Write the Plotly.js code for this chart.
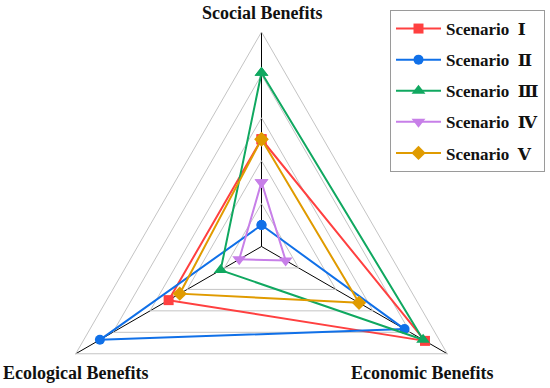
<!DOCTYPE html>
<html>
<head>
<meta charset="utf-8">
<script src="https://cdn.plot.ly/plotly-3.0.1.min.js"></script>
<style>
html,body{margin:0;padding:0;overflow:hidden;background:#fff;width:550px;height:388px;}
#chart{width:550px;height:470px;}
</style>
</head>
<body>
<div id="chart"></div>
<script>
// Categories (clockwise from top)
const categories = ['Scocial Benefits', 'Economic Benefits', 'Ecological Benefits'];
const scenarioNames = ['Scenario\u2002\u2160', 'Scenario\u2002\u2161', 'Scenario\u2002\u2162', 'Scenario\u2002\u2163', 'Scenario\u2002\u2164'];
// values: [Social, Economic, Ecological]
const scenario1 = [0.50, 0.88, 0.50];
const scenario2 = [0.10, 0.77, 0.87];
const scenario3 = [0.81, 0.87, 0.22];
const scenario4 = [0.30, 0.13, 0.12];
const scenario5 = [0.50, 0.525, 0.44];
const gridTicks = [0.2, 0.4, 0.6, 0.8];

const seriesValues = [scenario1, scenario2, scenario3, scenario4, scenario5];
const colors = ['#FF4040', '#1070E8', '#10A860', '#C77FE8', '#E09B00'];
const symbols = ['square', 'circle', 'triangle-up', 'triangle-down', 'diamond'];
const markerSizes = [10, 10, 12, 12, 11];
const serif = '"Liberation Serif", "DejaVu Serif", "Noto Sans CJK SC", serif';

const traces = seriesValues.map((vals, i) => ({
  type: 'scatterpolar',
  r: vals.concat([vals[0]]),
  theta: categories.concat([categories[0]]),
  mode: 'lines+markers',
  name: scenarioNames[i],
  legendgroup: 'g' + i,
  line: {color: colors[i], width: 2},
  marker: {symbol: symbols[i], size: markerSizes[i], color: colors[i]},
  cliponaxis: false
}));

const labelFont = {family: serif, size: 18, color: '#111', weight: 'bold'};

const layout = {
  width: 550, height: 470,
  margin: {l: 47, r: 74, t: 32, b: 9, autoexpand: false},
  paper_bgcolor: '#fff',
  showlegend: true,
  polar: {
    domain: {x: [0, 1], y: [0, 1]},
    gridshape: 'linear',
    bgcolor: 'rgba(0,0,0,0)',
    radialaxis: {
      range: [0, 1], tickvals: gridTicks, showticklabels: false, ticks: '',
      showline: false, gridcolor: '#c4c4c4', gridwidth: 1
    },
    angularaxis: {
      type: 'category', categoryarray: categories, rotation: 90, direction: 'clockwise',
      showticklabels: false, ticks: '', gridcolor: '#000000', gridwidth: 1,
      linecolor: '#c4c4c4', linewidth: 1, showline: true
    }
  },
  legend: {
    x: (390-47)/429, y: 1 + (32-10)/429, xanchor: 'left', yanchor: 'top',
    bgcolor: '#fff', bordercolor: '#9a9a9a', borderwidth: 1,
    font: {family: serif, size: 17, color: '#111', weight: 'bold'},
    tracegroupgap: 6,
    itemwidth: 45
  },
  annotations: [
    {text: categories[0], xref: 'paper', yref: 'paper', x: (261.5-47)/429, y: 1 + (32-13)/429, xanchor: 'center', yanchor: 'middle', showarrow: false, font: labelFont},
    {text: categories[1], xref: 'paper', yref: 'paper', x: (422-47)/429, y: 1 - (373-32)/429, xanchor: 'center', yanchor: 'middle', showarrow: false, font: labelFont},
    {text: categories[2], xref: 'paper', yref: 'paper', x: (75-47)/429, y: 1 - (373-32)/429, xanchor: 'center', yanchor: 'middle', showarrow: false, font: labelFont}
  ]
};

Plotly.newPlot('chart', traces, layout, {displayModeBar: false, staticPlot: true});
</script>
</body>
</html>
